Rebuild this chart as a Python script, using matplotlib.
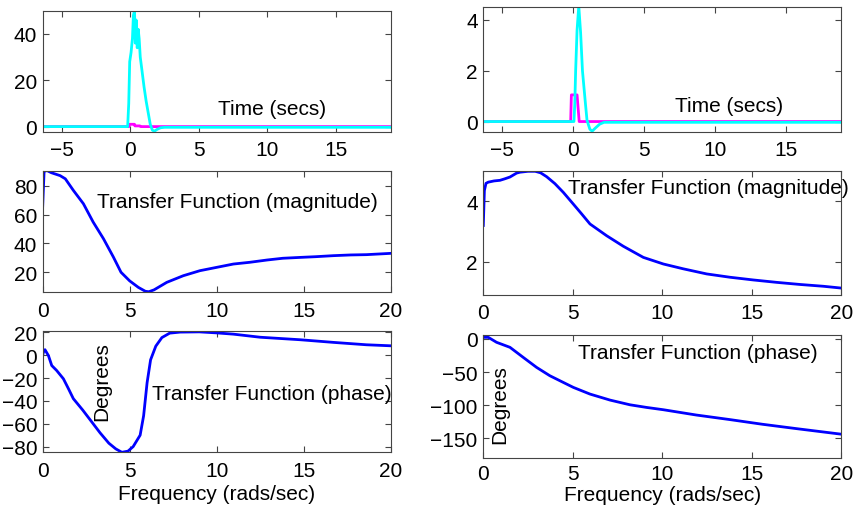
import numpy as np
import matplotlib
matplotlib.use('Agg')
import matplotlib.pyplot as plt

plt.rcParams['font.family'] = ['Liberation Sans', 'DejaVu Sans']
plt.rcParams['font.size'] = 15

# --- time responses (input pulse = magenta, output = cyan) ---
t_in_l = [-6.3, -0.1, -0.07, 0.3, 0.33, 0.7, 0.75, 19.0]
y_in_l = [0, 0, 1.0, 1.0, 0.3, 0.3, 0, 0]
t_out_l = [-6.3, -0.2, -0.12, -0.05, 0.05, 0.15, 0.22, 0.3, 0.36, 0.42, 0.5,
           0.57, 0.64, 0.72, 0.85, 1.0, 1.15, 1.3, 1.45, 1.6, 1.75, 1.95,
           2.2, 2.5, 19.0]
y_out_l = [0, 0, 10, 28, 32, 38, 48, 50, 36, 46, 34, 42, 38, 30, 24, 17, 11,
           6, 1, -1.5, -2, -1.2, -0.5, -0.3, -0.3]

t_in_r = [-6.3, -0.15, -0.1, 0.3, 0.45, 19.0]
y_in_r = [0, 0, 1.05, 1.05, 0, 0]
t_out_r = [-6.3, 0.08, 0.14, 0.2, 0.3, 0.42, 0.55, 0.68, 0.89, 1.0, 1.2,
           1.36, 1.6, 1.9, 2.2, 19.0]
y_out_r = [0, 0, 0.7, 2.0, 3.6, 4.55, 3.5, 2.0, 0.7, 0.05, -0.3, -0.38,
           -0.25, -0.1, -0.03, -0.03]

# --- transfer function magnitude ---
f_mag_l = [0, 0.08, 0.25, 0.5, 1.0, 1.3, 1.76, 2.34, 2.9, 3.49, 4.06, 4.5,
           5.0, 5.5, 5.9, 6.1, 6.4, 7.13, 8.08, 9.04, 10, 10.96, 11.9, 12.9,
           13.8, 14.8, 15.7, 16.7, 17.7, 18.6, 20]
mag_l = [66, 90, 90.5, 89, 87, 84.8, 76.8, 67.5, 54.8, 43.3, 30.6, 20, 14,
         9.5, 6.8, 6.5, 7.8, 13, 17.6, 21.1, 23.4, 25.7, 26.9, 28.5, 29.7,
         30.3, 30.8, 31.5, 32, 32.2, 33.1]

f_mag_r = [0, 0.06, 0.15, 0.28, 0.6, 0.93, 1.2, 1.49, 1.86, 2.05, 2.5, 2.9,
           3.2, 3.54, 4.0, 4.47, 5.03, 5.5, 5.96, 6.89, 7.82, 8.94, 10.06,
           11.17, 12.48, 13.78, 15.08, 16.39, 17.69, 19.0, 20]
mag_r = [3.2, 4.36, 4.6, 4.64, 4.68, 4.70, 4.75, 4.81, 4.94, 4.97, 5.0, 5.0,
         4.95, 4.82, 4.59, 4.3, 3.91, 3.58, 3.25, 2.86, 2.51, 2.14, 1.92,
         1.76, 1.59, 1.48, 1.39, 1.31, 1.24, 1.18, 1.12]

# --- transfer function phase (degrees) ---
f_ph_l = [0, 0.04, 0.13, 0.33, 0.52, 0.8, 1.19, 1.48, 1.76, 2.3, 2.8, 3.3,
          3.8, 4.2, 4.55, 4.9, 5.2, 5.6, 5.8, 6.0, 6.2, 6.5, 6.85, 7.3, 7.9,
          9.0, 10, 10.96, 12.5, 14.8, 16.7, 18.6, 20]
ph_l = [0, 2.6, 4.9, -0.3, -9, -13.3, -20.6, -29.3, -38, -48, -58, -68,
        -77, -82, -85, -84, -80, -70, -53, -24, -4, 8, 15.5, 19.4, 20.3,
        20.5, 19.6, 18.5, 15.8, 13.6, 11.3, 9.2, 8.3]

f_ph_r = [0, 0.28, 0.74, 1.49, 2.23, 2.98, 3.72, 4.47, 5.03, 5.96, 7.08,
          8.19, 9.12, 10.06, 11.9, 13.8, 15.6, 17.5, 20]
ph_r = [2.5, 2.5, -5, -12.6, -27.8, -43, -55.6, -65.7, -73.2, -83.3, -92.4,
        -99.5, -103.5, -107, -115, -122, -129, -135.6, -144]

W, H = 861, 510
fig = plt.figure(figsize=(W / 100, H / 100), dpi=100)


def ax_at(l, r, t, b, xpad=6):
    ax = fig.add_axes([l / W, 1 - b / H, (r - l) / W, (b - t) / H])
    ax.tick_params(direction='in', top=True, right=True, length=4,
                   labelsize=15, color='#444444')
    ax.tick_params(axis='x', pad=xpad)
    ax.tick_params(axis='y', pad=4)
    for s in ax.spines.values():
        s.set_color('#444444')
    return ax


blue = (0, 0, 1)
cyan = (0, 1, 1)
mag = (1, 0, 1)

# top left
ax = ax_at(42.7, 390.7, 11.7, 132.7)
ax.plot(t_in_l, y_in_l, color=mag, lw=2)
ax.plot(t_out_l, y_out_l, color=cyan, lw=2)
ax.set_xlim(-6.4, 19.0)
ax.set_ylim(-2.2, 50)
ax.set_xticks([-5, 0, 5, 10, 15])
ax.set_yticks([0, 20, 40])
ax.text(6.4, 7.6, 'Time (secs)', ha='left', va='center')

# top right
ax = ax_at(483.3, 841.3, 8.3, 132.7)
ax.plot(t_in_r, y_in_r, color=mag, lw=2)
ax.plot(t_out_r, y_out_r, color=cyan, lw=2)
ax.set_xlim(-6.3, 18.9)
ax.set_ylim(-0.4, 4.5)
ax.set_xticks([-5, 0, 5, 10, 15])
ax.set_yticks([0, 2, 4])
ax.text(7.2, 0.65, 'Time (secs)', ha='left', va='center')

# middle left
ax = ax_at(42.7, 390.7, 172.3, 293.3)
ax.plot(f_mag_l, mag_l, color=blue, lw=2)
ax.set_xlim(0, 20)
ax.set_ylim(6.1, 90)
ax.set_xticks([0, 5, 10, 15, 20])
ax.set_yticks([20, 40, 60, 80])
ax.text(3.1, 69, 'Transfer Function (magnitude)', ha='left', va='center')

# middle right
ax = ax_at(483.3, 841.3, 172.3, 295.7)
ax.plot(f_mag_r, mag_r, color=blue, lw=2)
ax.set_xlim(0, 20)
ax.set_ylim(0.9, 5.0)
ax.set_xticks([0, 5, 10, 15, 20])
ax.set_yticks([2, 4])
ax.text(4.75, 4.46, 'Transfer Function (magnitude)', ha='left', va='center')

# bottom left
ax = ax_at(42.7, 390.7, 332.3, 453.3)
ax.plot(f_ph_l, ph_l, color=blue, lw=2)
ax.set_xlim(0, 20)
ax.set_ylim(-85, 21)
ax.set_xticks([0, 5, 10, 15, 20])
ax.set_yticks([-80, -60, -40, -20, 0, 20])
ax.text(6.26, -33.5, 'Transfer Function (phase)', ha='left', va='center')
ax.text(3.4, -22, 'Degrees', rotation=90, ha='center', va='center')
fig.text(216.7 / W, 1 - 495 / H, 'Frequency (rads/sec)', ha='center',
         va='center', fontsize=15)

# bottom right
ax = ax_at(483.3, 841.3, 335.7, 459, xpad=4.5)
ax.plot(f_ph_r, ph_r, color=blue, lw=2)
ax.set_xlim(0, 20)
ax.set_ylim(-180, 6.5)
ax.set_xticks([0, 5, 10, 15, 20])
ax.set_yticks([-150, -100, -50, 0])
ax.text(5.3, -21, 'Transfer Function (phase)', ha='left', va='center')
ax.text(0.93, -97, 'Degrees', rotation=90, ha='center', va='center')
fig.text(662.3 / W, 1 - 496 / H, 'Frequency (rads/sec)', ha='center',
         va='center', fontsize=15)

fig.savefig('out.png', dpi=100)
